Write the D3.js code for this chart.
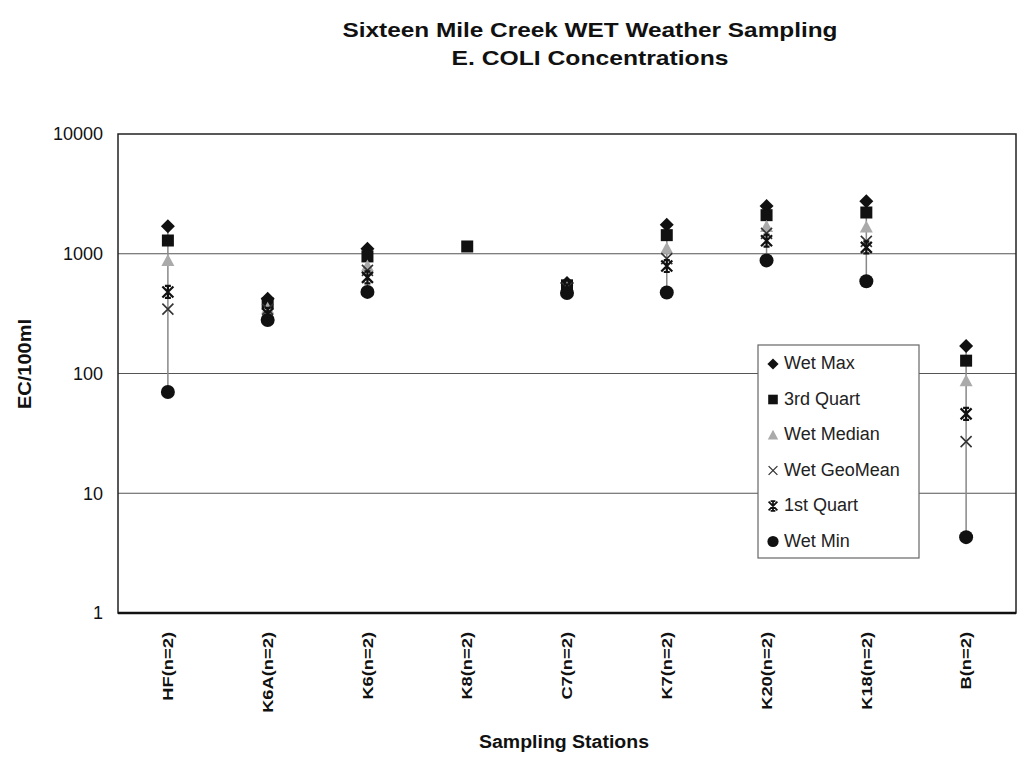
<!DOCTYPE html>
<html>
<head>
<meta charset="utf-8">
<script src="https://cdn.jsdelivr.net/npm/d3@7"></script>
<style>
  body { margin: 0; background: #fff; }
  text { font-family: "Liberation Sans", Arial, sans-serif; fill: #111; }
</style>
</head>
<body>
<div id="chart"></div>
<script>
// Chart data
const stations = ["HF(n=2)", "K6A(n=2)", "K6(n=2)", "K8(n=2)", "C7(n=2)", "K7(n=2)", "K20(n=2)", "K18(n=2)", "B(n=2)"];
const wetMax    = [1700, 420, 1100, null, 570, 1750, 2500, 2750, 170];
const thirdQuart = [1290, 385, 950, 1150, 545, 1430, 2100, 2210, 128];
const wetMedian = [880, 350, 790, null, 520, 1110, 1690, 1670, 87];
const wetGeoMean = [345, 343, 727, null, 518, 910, 1480, 1270, 27];
const firstQuart = [480, 315, 635, null, 495, 790, 1285, 1130, 46];
const wetMin    = [70, 280, 480, null, 470, 475, 880, 590, 4.3];
const yTicks = [1, 10, 100, 1000, 10000];

const width = 1029;
const height = 761;
const margin = { top: 134, right: 13, bottom: 148, left: 118 };
const chartWidth = width - margin.left - margin.right;
const chartHeight = height - margin.top - margin.bottom;

const svg = d3.select("#chart")
    .append("svg")
    .attr("width", width)
    .attr("height", height);

// Titles
svg.append("text")
    .attr("x", 590).attr("y", 37)
    .attr("text-anchor", "middle")
    .style("font-size", "21px").style("font-weight", "bold")
    .attr("textLength", 495).attr("lengthAdjust", "spacingAndGlyphs")
    .text("Sixteen Mile Creek WET Weather Sampling");

svg.append("text")
    .attr("x", 590).attr("y", 65)
    .attr("text-anchor", "middle")
    .style("font-size", "21px").style("font-weight", "bold")
    .attr("textLength", 277).attr("lengthAdjust", "spacingAndGlyphs")
    .text("E. COLI Concentrations");

const chart = svg.append("g")
    .attr("transform", `translate(${margin.left}, ${margin.top})`);

const xScale = d3.scaleBand()
    .domain(stations)
    .range([0, chartWidth]);

const yScale = d3.scaleLog()
    .domain([1, 10000])
    .range([chartHeight, 0]);

// Gridlines
chart.selectAll("line.grid")
    .data(yTicks.slice(1, -1))
    .enter()
    .append("line")
    .attr("class", "grid")
    .attr("x1", 0).attr("x2", chartWidth)
    .attr("y1", d => yScale(d)).attr("y2", d => yScale(d))
    .attr("stroke", "#555")
    .attr("stroke-width", 1.2);

// Plot border
chart.append("rect")
    .attr("width", chartWidth).attr("height", chartHeight)
    .attr("fill", "none")
    .attr("stroke", "#222")
    .attr("stroke-width", 1.5);
chart.append("line")
    .attr("x1", 0).attr("x2", chartWidth)
    .attr("y1", chartHeight).attr("y2", chartHeight)
    .attr("stroke", "#111").attr("stroke-width", 2.5);

// Axes
const yAxis = d3.axisLeft(yScale)
    .tickValues(yTicks)
    .tickFormat(d3.format("d"))
    .tickSize(0)
    .tickPadding(15);

const gy = chart.append("g").call(yAxis);
gy.select(".domain").remove();
gy.selectAll("text")
    .style("font-size", "18px")
    .style("font-family", "'Liberation Sans', Arial, sans-serif")
    .attr("fill", "#222");

const xAxis = d3.axisBottom(xScale).tickSize(0);
const gx = chart.append("g")
    .attr("transform", `translate(0, ${chartHeight})`)
    .call(xAxis);
gx.select(".domain").remove();
gx.selectAll("text")
    .style("font-size", "15px")
    .style("font-weight", "bold")
    .style("font-family", "'Liberation Sans', Arial, sans-serif")
    .attr("fill", "#111")
    .attr("text-anchor", "end")
    .attr("dy", "0.35em")
    .attr("transform", "translate(0, 19) rotate(-90)")
    .attr("y", 0).attr("x", 0)
    .each(function() {
        const len = this.getComputedTextLength();
        d3.select(this).attr("textLength", len * 1.22).attr("lengthAdjust", "spacingAndGlyphs");
    });

// Axis titles
svg.append("text")
    .attr("transform", `translate(31, ${364}) rotate(-90)`)
    .attr("text-anchor", "middle")
    .style("font-size", "18px").style("font-weight", "bold")
    .attr("textLength", 90).attr("lengthAdjust", "spacingAndGlyphs")
    .text("EC/100ml");

svg.append("text")
    .attr("x", 564).attr("y", 748)
    .attr("text-anchor", "middle")
    .style("font-size", "18px").style("font-weight", "bold")
    .attr("textLength", 170).attr("lengthAdjust", "spacingAndGlyphs")
    .text("Sampling Stations");

// High-low lines
const cx = i => xScale(stations[i]) + xScale.bandwidth() / 2;
chart.selectAll("line.hilo")
    .data(stations.map((s, i) => i).filter(i => wetMax[i] != null && wetMin[i] != null))
    .enter()
    .append("line")
    .attr("class", "hilo")
    .attr("x1", cx).attr("x2", cx)
    .attr("y1", i => yScale(wetMin[i]))
    .attr("y2", i => yScale(wetMax[i]))
    .attr("stroke", "#888")
    .attr("stroke-width", 1.5);

// Marker shapes
const markers = {
    diamond: g => g.append("path").attr("d", "M0,-7L7,0L0,7L-7,0Z").attr("fill", "#111"),
    square: g => g.append("rect").attr("x", -6).attr("y", -6).attr("width", 12).attr("height", 12).attr("fill", "#111"),
    triangle: g => g.append("path").attr("d", "M0,-6.5L6.5,5.5L-6.5,5.5Z").attr("fill", "#aaa"),
    cross: g => g.append("path").attr("d", "M-5.5,-5.5L5.5,5.5M-5.5,5.5L5.5,-5.5").attr("stroke", "#333").attr("stroke-width", 1.6).attr("fill", "none"),
    star: g => g.append("path").attr("d", "M-5.5,-5.5L5.5,5.5M-5.5,5.5L5.5,-5.5M0,-6L0,6M-3,-6L3,-6M-3,6L3,6").attr("stroke", "#111").attr("stroke-width", 2.2).attr("fill", "none"),
    circle: g => g.append("circle").attr("r", 7).attr("fill", "#111")
};

const series = [
    { name: "Wet Max", values: wetMax, marker: "diamond" },
    { name: "3rd Quart", values: thirdQuart, marker: "square" },
    { name: "Wet Median", values: wetMedian, marker: "triangle" },
    { name: "Wet GeoMean", values: wetGeoMean, marker: "cross" },
    { name: "1st Quart", values: firstQuart, marker: "star" },
    { name: "Wet Min", values: wetMin, marker: "circle" }
];

series.forEach(s => {
    chart.selectAll(null)
        .data(s.values.map((v, i) => ({ v, i })).filter(d => d.v != null))
        .enter()
        .append("g")
        .attr("transform", d => `translate(${cx(d.i)}, ${yScale(d.v)})`)
        .each(function() { markers[s.marker](d3.select(this)); });
});

// Legend
const legend = svg.append("g").attr("transform", "translate(758, 345)");
legend.append("rect")
    .attr("width", 161).attr("height", 213)
    .attr("fill", "#fff")
    .attr("stroke", "#666")
    .attr("stroke-width", 1.2);

const items = legend.selectAll("g.item")
    .data(series)
    .enter()
    .append("g")
    .attr("class", "item")
    .attr("transform", (d, i) => `translate(0, ${18 + i * 35.5})`);

items.append("g")
    .attr("transform", "translate(15, 1) scale(0.8)")
    .each(function(d) { markers[d.marker](d3.select(this)); });

items.append("text")
    .attr("x", 26).attr("y", 0)
    .attr("dy", "0.35em")
    .style("font-size", "18px")
    .style("fill", "#222")
    .text(d => d.name);
</script>
</body>
</html>
